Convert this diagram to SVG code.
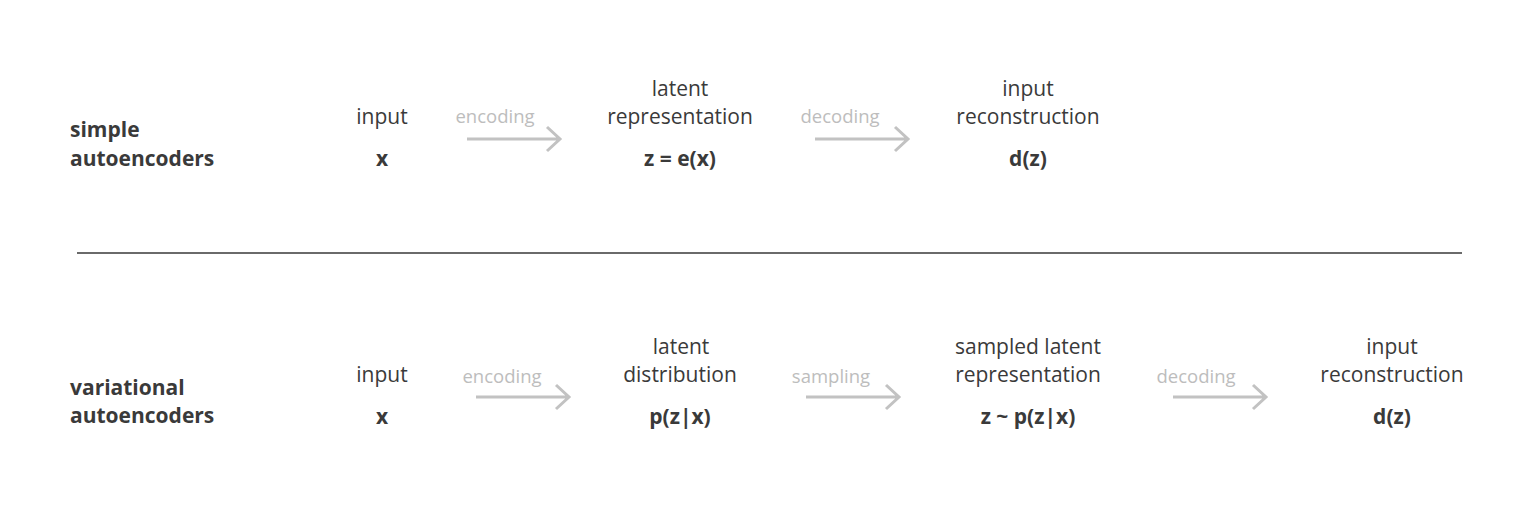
<svg xmlns="http://www.w3.org/2000/svg" width="1536" height="507" viewBox="0 0 1536 507">
<style>
  .t { font-family: "Open Sans", "Noto Sans", "Liberation Sans", sans-serif; font-size: 21px; fill: #3a3a3a; text-anchor: middle; }
  .b { font-family: "Open Sans", "Noto Sans", "Liberation Sans", sans-serif; font-size: 21px; font-weight: 700; fill: #3a3a3a; }
  .bc { text-anchor: middle; }
  .l { font-family: "Open Sans", "Noto Sans", "Liberation Sans", sans-serif; font-size: 18.5px; fill: #bdbdbd; text-anchor: middle; }
  .arr { fill: none; stroke: #c2c2c2; stroke-width: 3; }
  .div { stroke: #6a6a6a; stroke-width: 2; }
</style>
<rect width="1536" height="507" fill="#ffffff"/>

<g id="row1-title">
  <text class="b" x="70" y="137">simple</text>
  <text class="b" x="70" y="166">autoencoders</text>
</g>
<g id="row1-input">
  <text class="t" x="382" y="124">input</text>
  <text class="b bc" x="382" y="166">x</text>
</g>
<g id="row1-latent">
  <text class="t" x="680" y="96">latent</text>
  <text class="t" x="680" y="124">representation</text>
  <text class="b bc" x="680" y="166">z = e(x)</text>
</g>
<g id="row1-recon">
  <text class="t" x="1028" y="96">input</text>
  <text class="t" x="1028" y="124">reconstruction</text>
  <text class="b bc" x="1028" y="166">d(z)</text>
</g>

<g id="divider">
  <line class="div" x1="77" y1="253" x2="1462" y2="253"/>
</g>

<g id="row2-title">
  <text class="b" x="70" y="395">variational</text>
  <text class="b" x="70" y="423">autoencoders</text>
</g>
<g id="row2-input">
  <text class="t" x="382" y="382">input</text>
  <text class="b bc" x="382" y="424">x</text>
</g>
<g id="row2-latent">
  <text class="t" x="681" y="354">latent</text>
  <text class="t" x="680" y="382">distribution</text>
  <text class="b bc" x="680" y="424">p(z|x)</text>
</g>
<g id="row2-sampled">
  <text class="t" x="1028" y="354">sampled latent</text>
  <text class="t" x="1028" y="382">representation</text>
  <text class="b bc" x="1028" y="424">z ~ p(z|x)</text>
</g>
<g id="row2-recon">
  <text class="t" x="1392" y="354">input</text>
  <text class="t" x="1392" y="382">reconstruction</text>
  <text class="b bc" x="1392" y="424">d(z)</text>
</g>

<g id="connectors">
  <text class="l" x="495" y="123">encoding</text>
  <path class="arr" d="M467 139 H559 M547 127 L560 139 L547 151"/>
  <text class="l" x="840" y="123">decoding</text>
  <path class="arr" d="M815 139 H907 M895 127 L908 139 L895 151"/>

  <text class="l" x="502" y="383">encoding</text>
  <path class="arr" d="M476 397 H568 M556 385 L569 397 L556 409"/>
  <text class="l" x="831" y="383">sampling</text>
  <path class="arr" d="M806 397 H898 M886 385 L899 397 L886 409"/>
  <text class="l" x="1196" y="383">decoding</text>
  <path class="arr" d="M1173 397 H1265 M1253 385 L1266 397 L1253 409"/>
</g>
</svg>
